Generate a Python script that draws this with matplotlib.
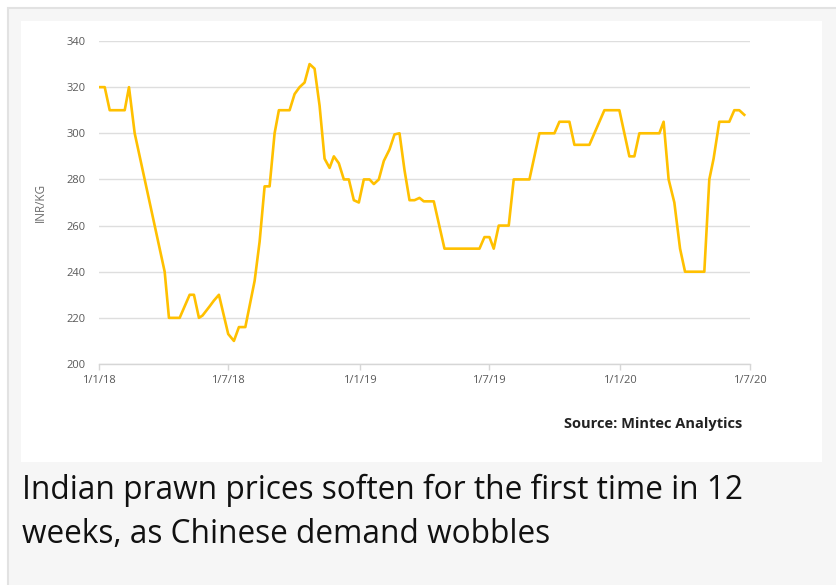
import matplotlib
matplotlib.use("Agg")
import pandas as pd
from matplotlib import pyplot as plt
from matplotlib.patches import Rectangle

# weekly price points (INR/KG), vertices
dates = [
    "2018-01-01", "2018-01-09", "2018-01-16", "2018-02-06", "2018-02-12",
    "2018-02-20", "2018-03-06", "2018-04-03", "2018-04-09", "2018-04-24",
    "2018-05-08", "2018-05-14", "2018-05-21", "2018-05-26", "2018-06-05",
    "2018-06-11", "2018-06-18", "2018-07-01", "2018-07-09", "2018-07-16",
    "2018-07-25", "2018-08-07", "2018-08-14", "2018-08-21", "2018-08-28",
    "2018-09-04", "2018-09-10", "2018-09-25", "2018-10-02", "2018-10-09",
    "2018-10-16", "2018-10-23", "2018-10-30", "2018-11-06", "2018-11-13",
    "2018-11-20", "2018-11-26", "2018-12-03", "2018-12-10", "2018-12-17",
    "2018-12-24", "2018-12-31", "2019-01-07", "2019-01-15", "2019-01-21",
    "2019-01-28", "2019-02-04", "2019-02-12", "2019-02-19", "2019-02-26",
    "2019-03-05", "2019-03-12", "2019-03-19", "2019-03-26", "2019-04-01",
    "2019-04-15", "2019-04-30", "2019-06-18", "2019-06-25", "2019-07-02",
    "2019-07-08", "2019-07-15", "2019-07-29", "2019-08-05", "2019-08-27",
    "2019-09-10", "2019-10-01", "2019-10-08", "2019-10-22", "2019-10-29",
    "2019-11-19", "2019-12-10", "2019-12-31", "2020-01-14", "2020-01-21",
    "2020-01-28", "2020-02-25", "2020-03-02", "2020-03-09", "2020-03-17",
    "2020-03-25", "2020-04-01", "2020-04-28", "2020-05-05", "2020-05-11",
    "2020-05-19", "2020-06-02", "2020-06-09", "2020-06-16", "2020-06-23",
]
prices = [
    320, 320, 310, 310, 320,
    300, 280, 240, 220, 220,
    230, 230, 220, 221, 225,
    227.5, 230, 213, 210, 216,
    216, 236, 253, 277, 277,
    300, 310, 310, 317, 320,
    322, 330, 328, 312, 289,
    285, 290, 287, 280, 280,
    271, 270, 280, 280, 278,
    280, 288, 293, 299.5, 300,
    284, 271, 271, 272, 270.5,
    270.5, 250, 250, 255, 255,
    250, 260, 260, 280, 280,
    300, 300, 305, 305, 295,
    295, 310, 310, 290, 290,
    300, 300, 305, 280, 270,
    250, 240, 240, 280, 289,
    305, 305, 310, 310, 308,
]

y_ticks = [200, 220, 240, 260, 280, 300, 320, 340]
x_ticks = ["2018-01-01", "2018-07-01", "2019-01-01", "2019-07-01", "2020-01-01", "2020-07-01"]
x_labels = ["1/1/18", "1/7/18", "1/1/19", "1/7/19", "1/1/20", "1/7/20"]

caption_lines = ["Indian prawn prices soften for the first time in 12",
                 "weeks, as Chinese demand wobbles"]
source = "Source: Mintec Analytics"

W, H = 836, 585
fig = plt.figure(figsize=(W / 100, H / 100), dpi=100)
fig.patch.set_facecolor("white")

# outer card and white chart panel (kept behind the axes)
fig.patches.append(Rectangle((7.5 / W, -0.05), 1, 1.05 - 7.5 / H, transform=fig.transFigure,
                             facecolor="#f6f6f6", edgecolor="#e2e2e2", linewidth=1.5, zorder=-3))
fig.patches.append(Rectangle((21 / W, 1 - 462 / H), 801 / W, 441 / H, transform=fig.transFigure,
                             facecolor="white", edgecolor="none", zorder=-2))

ax = fig.add_axes([99 / W, 1 - 364 / H, 651 / W, 323 / H])
ax.set_zorder(1)
ax.set_facecolor("none")

ax.plot(pd.to_datetime(dates), prices, color="#FFC000", linewidth=1.9, zorder=3)

ax.set_ylim(200, 340)
ax.set_xlim(pd.Timestamp("2018-01-01"), pd.Timestamp("2020-07-01"))
ax.set_yticks(y_ticks)
ax.set_xticks(pd.to_datetime(x_ticks))
ax.set_xticklabels(x_labels)

ax.grid(axis="y", color="#dedede", linewidth=1.0)
ax.set_axisbelow(True)
for side in ["top", "right", "left"]:
    ax.spines[side].set_visible(False)
ax.spines["bottom"].set_color("#d6d6d6")
ax.spines["bottom"].set_linewidth(1.0)

ax.tick_params(axis="y", length=0, pad=9.5, labelsize=8, labelcolor="#595959")
ax.tick_params(axis="x", length=4, width=1, color="#d6d6d6", pad=4, labelsize=8, labelcolor="#595959")
for lab in ax.get_xticklabels() + ax.get_yticklabels():
    lab.set_fontfamily("Open Sans")

fig.text(40 / W, 1 - 202 / H, "INR/KG", rotation=90, ha="center", va="center",
         fontsize=8.5, color="#6b6b6b", family="Open Sans")
fig.text(742 / W, 1 - 424 / H, source, ha="right", va="center",
         fontsize=10.5, fontweight="bold", color="#222222", family="Open Sans")
for line, base in zip(caption_lines, [499, 543]):
    fig.text(22 / W, 1 - base / H, line, ha="left", va="baseline",
             fontsize=22.8, color="#111111", family="Open Sans")

fig.savefig("out.png", dpi=100)
